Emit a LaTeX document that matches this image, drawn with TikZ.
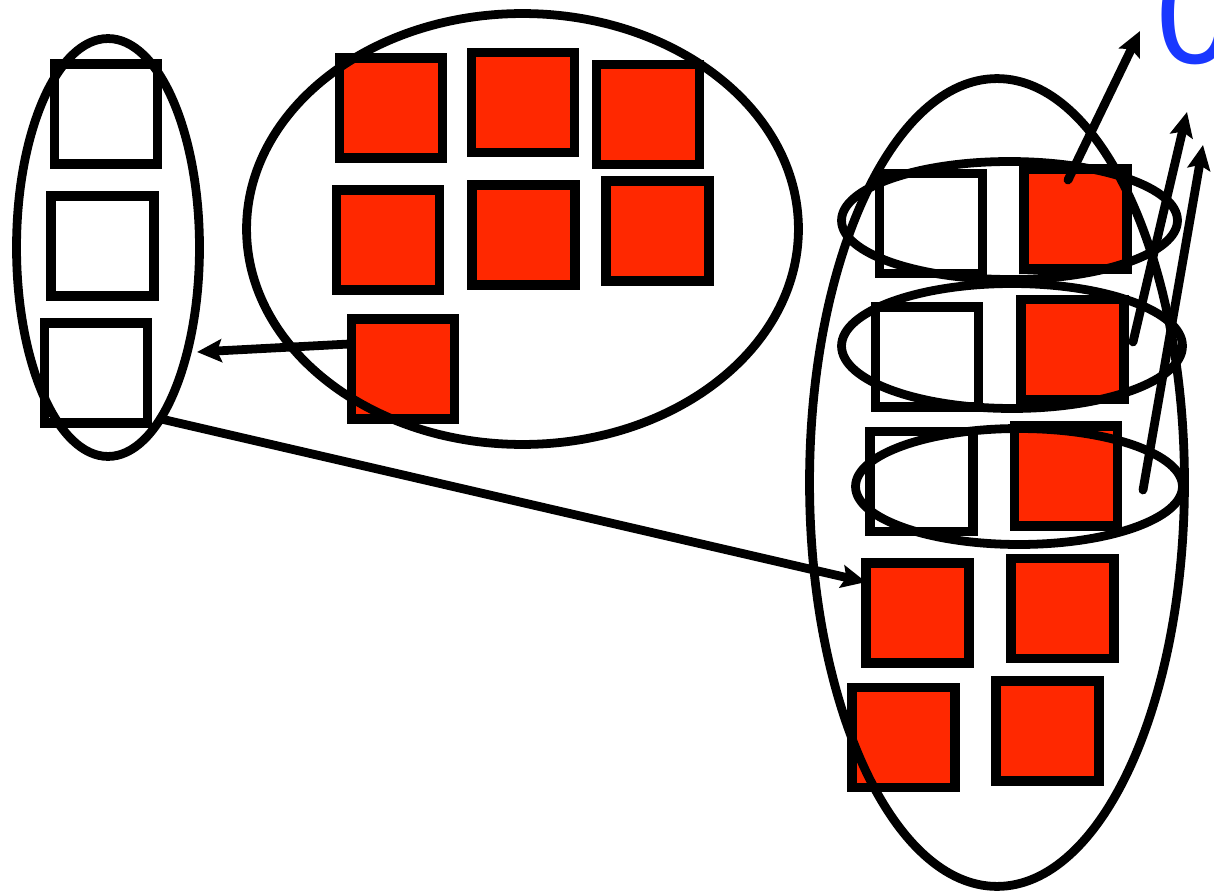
\documentclass[tikz,border=0pt]{standalone}
\usepackage{fontspec}
\newfontfamily\digitfont{Liberation Sans}
\usepackage{xcolor}
\usepackage{tikz}
\usetikzlibrary{arrows.meta,shapes.geometric}
\definecolor{boxred}{RGB}{255,40,0}
\definecolor{labelblue}{RGB}{25,55,255}

\begin{document}
\begin{tikzpicture}[x=0.02cm,y=-0.02cm,>={Stealth[length=14pt,width=13pt,inset=2.5pt]},
every node/.style={inner sep=0pt,outer sep=0pt},
blank/.style={draw,line width=5.2pt,minimum width=2.06cm,minimum height=2.0cm,fill=white},
filled/.style={blank,fill=boxred},
ring/.style={draw,ellipse,line width=5pt},
link/.style={->,line width=5pt,line cap=round}]
\useasboundingbox (0,0) rectangle (1214,895);
\clip (0,0) rectangle (1214,895);
\node[blank] (a1) at (106,114) {};
\node[blank] (a2) at (102.5,246) {};
\node[blank] (a3) at (96,373) {};
\node[filled] (b1) at (391,108) {};
\node[filled] (b2) at (523,102.5) {};
\node[filled] (b3) at (648,114.5) {};
\node[filled] (b4) at (388,240) {};
\node[filled] (b5) at (523.5,235) {};
\node[filled] (b6) at (657.5,231) {};
\node[filled] (b7) at (403,369) {};
\node[blank] (c1) at (931,223.5) {};
\node[filled] (c2) at (1075.5,219) {};
\node[blank] (c3) at (927,357) {};
\node[filled] (c4) at (1072.5,349.5) {};
\node[blank] (c5) at (921.5,481.5) {};
\node[filled] (c6) at (1066,476) {};
\node[filled] (c7) at (917.5,613) {};
\node[filled] (c8) at (1062.5,608.5) {};
\node[filled] (c9) at (903.5,737.5) {};
\node[filled] (c10) at (1047.5,731) {};
\node[ring,minimum width=3.66cm,minimum height=8.36cm] (lset) at (108,247.5) {};
\node[ring,minimum width=11.04cm,minimum height=8.62cm] (mset) at (522.5,229) {};
\node[ring,minimum width=7.5cm,minimum height=16.16cm] (rset) at (997,482.5) {};
\node[ring,minimum width=6.72cm,minimum height=2.36cm] (pair1) at (1009.5,220.5) {};
\node[ring,minimum width=6.82cm,minimum height=2.5cm] (pair2) at (1012,346) {};
\node[ring,minimum width=6.54cm,minimum height=2.32cm] (pair3) at (1019,486.5) {};
\node[anchor=base west,text=labelblue,font=\digitfont\fontsize{80}{90}\selectfont] (zero) at (1156,64) {0};
\coordinate (lin) at (197,352);
\coordinate (s1) at (1068,180);
\coordinate (t1) at (1140,31);
\coordinate (s2) at (1133,342);
\coordinate (t2) at (1187,112);
\coordinate (s3) at (1143,490);
\coordinate (t3) at (1203,145);
\draw[link] (b7.154)--(lin);
\draw[link] (lset.-73)--(c7.149);
\draw[link] (s1)--(t1);
\draw[link] (s2)--(t2);
\draw[link] (s3)--(t3);
\end{tikzpicture}
\end{document}
